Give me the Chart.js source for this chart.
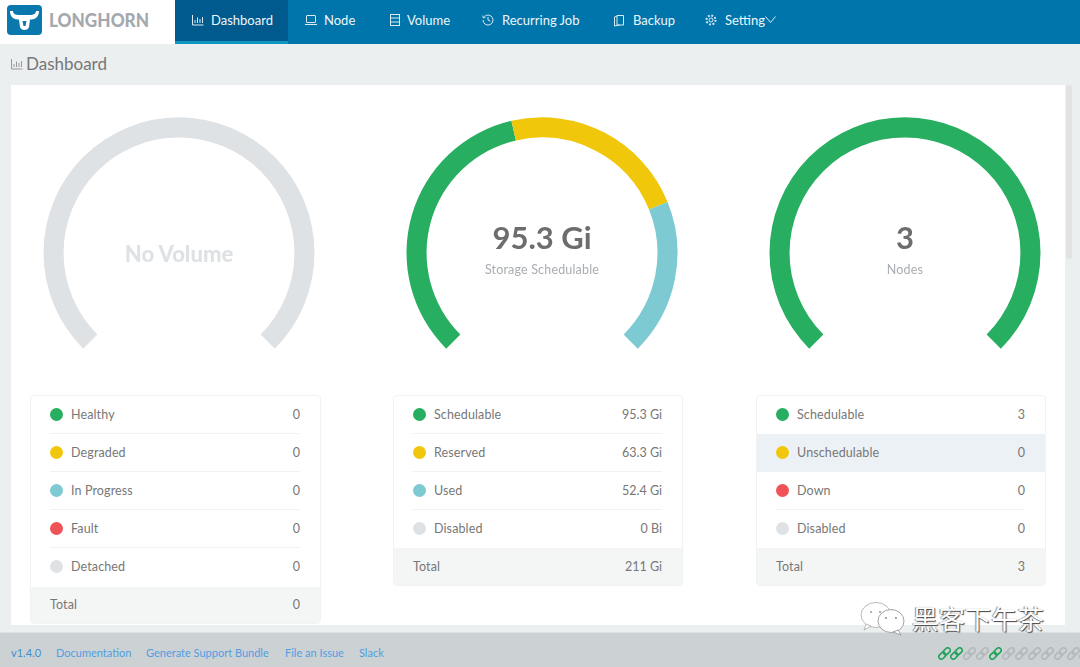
<!DOCTYPE html>
<html><head><meta charset="utf-8"><title>Longhorn Dashboard</title>
<script src="https://cdn.jsdelivr.net/npm/chart.js@4/dist/chart.umd.js"></script>
<style>
*{box-sizing:border-box}
html,body{margin:0;padding:0;width:1080px;height:667px;overflow:hidden;background:#ebeff0;font-family:Lato,"Open Sans",sans-serif;color:#777}
.abs,.abs *{position:absolute}
#top{left:0;top:0;width:1080px;height:44px;background:#0075ab}
#brand{left:0;top:0;width:175px;height:44px;background:#fff}
#logo{left:7px;top:5px;width:35px;height:30px;background:#0a78ad;border-radius:4px}
#logotext{left:49px;top:8px;font-size:18.5px;font-weight:900;line-height:24px;color:#a4a9ae;white-space:nowrap;transform:scaleX(.93);transform-origin:left center}
#active{left:175px;top:0;width:113px;height:44px;background:#005a8e;border-bottom:3px solid #0f97c3}
.nav{top:12px;font-size:13px;line-height:16px;color:#eef6fa;white-space:nowrap}
.ico{overflow:visible;fill:none;stroke:#dcecf4;stroke-width:1}
#title{left:26px;top:53px;font-size:17px;line-height:22px;color:#777;white-space:nowrap}
#panel{left:11px;top:85px;width:1054px;height:540px;background:#fff}
#thumb{left:1066px;top:85px;width:6px;height:174px;background:#e1e2e3;border-radius:3px}
canvas{position:absolute}
.big{font-weight:700;font-size:31px;line-height:36px;color:#6d6d6d;text-align:center;width:280px;white-space:nowrap}
.sub{font-size:12.5px;line-height:16px;color:#a9adb1;text-align:center;width:280px;white-space:nowrap;letter-spacing:.17px}
.nov{font-weight:900;font-size:22px;line-height:28px;color:#dfe2e5;text-align:center;width:280px;white-space:nowrap}
.card{background:#fff;border:1px solid #f0f2f3;border-radius:4px;overflow:hidden}
.row{left:0;width:100%;height:38.1px}
.row .sep{left:19px;right:20px;bottom:0;height:1px;background:#eff1f2}
.dot{left:19px;top:11.5px;width:13px;height:13px;border-radius:50%}
.lab{left:40px;top:10.5px;font-size:12.5px;line-height:16px;color:#777;white-space:nowrap;letter-spacing:.12px}
.val{right:20px;top:10.5px;font-size:12.5px;line-height:16px;color:#777;white-space:nowrap}
.tot{background:#f4f6f6}
#foot{left:0;top:632px;width:1080px;height:35px;background:#ccd1d4;border-top:1px solid #dde1e3}
.fl{font-size:11px;line-height:14px;white-space:nowrap}
#mark{left:912px;top:601px;font-family:"Noto Sans CJK SC";font-size:26.4px;line-height:34px;color:#fff;white-space:nowrap;text-shadow:1px 1px 1px #444,-1px 0 1px #888}
</style></head><body>
<div class="abs" id="root" style="left:0;top:0;width:1080px;height:667px">
<div id="top"></div>
<div id="brand"></div>
<div id="logo"><svg width="35" height="30" viewBox="0 0 35 30" style="left:0;top:0"><path fill-rule="evenodd" d="M3 6C3 13 8 14.500 12 14.500L13 22C14 26 21 26 22 22L23 14.500C27 14.500 32 13 32 6L29 6C29 9 26 10 23 10H12C9 10 6 9 6 6ZM15.500 16L16.500 21H18.500L19.500 16Z" fill="#fff"/></svg></div>
<div id="logotext">LONGHORN</div>
<div id="active"></div>
<div id="navs"></div>
<svg width="12" height="12" style="left:11px;top:58px;overflow:visible;fill:none;stroke:#999;stroke-width:1"><path d="M.5 1v10h11M3 9V6M5.5 9V3.500M8 9V5M10.500 9V3"/></svg>
<div id="title">Dashboard</div>
<div id="panel"></div>
<div id="thumb"></div>
<canvas id="g1" width="280" height="280" style="left:39px;top:93px;width:280px;height:280px"></canvas>
<canvas id="g2" width="280" height="280" style="left:402px;top:93px;width:280px;height:280px"></canvas>
<canvas id="g3" width="280" height="280" style="left:765px;top:93px;width:280px;height:280px"></canvas>
<div class="nov" style="left:39px;top:240px">No Volume</div>
<div class="big" id="c2" style="left:402px;top:219px"></div>
<div class="sub" id="s2" style="left:402px;top:262px"></div>
<div class="big" id="c3" style="left:765px;top:219px"></div>
<div class="sub" id="s3" style="left:765px;top:262px"></div>
<div id="cards"></div>
<div id="foot"></div>
<div id="links"></div>
<svg width="46" height="36" viewBox="0 0 46 36" style="left:860px;top:601px"><ellipse cx="16" cy="14" rx="15" ry="12.500" fill="#fff" stroke="#aaa" stroke-width=".8"/><path d="M6 23l-2 6 7-4z" fill="#fff" stroke="#aaa" stroke-width=".8"/><ellipse cx="31" cy="20" rx="13" ry="11.500" fill="#fff" stroke="#999" stroke-width=".9"/><path d="M38 29l3 5-8-3z" fill="#fff" stroke="#999" stroke-width=".9"/><circle cx="11" cy="11" r="1" fill="#999"/><circle cx="20" cy="11" r="1" fill="#999"/><circle cx="26" cy="17" r="1" fill="#888"/><circle cx="36" cy="17" r="1" fill="#888"/></svg>
<div id="mark">黑客下午茶</div>
</div>
<script>
const navLabels=["Dashboard","Node","Volume","Recurring Job","Backup","Setting"];
const navTextX=[211,324,407,502,633,725];
const footerLabels=["v1.4.0","Documentation","Generate Support Bundle","File an Issue","Slack"];
const footerX=[11,56,146,285,359];
const footerColor=["#3f8fd0","#4f9fe3","#4f9fe3","#4f9fe3","#4f9fe3"];
const volumeLabels=["Healthy","Degraded","In Progress","Fault","Detached"];
const volumeValues=[0,0,0,0,0];
const volumeTrack=[1];
const storageLabels=["Schedulable","Reserved","Used","Disabled"];
const storageValues=[95.3,63.3,52.4,0];
const storageText=["95.3 Gi","63.3 Gi","52.4 Gi","0 Bi"];
const storageTotal="211 Gi";
const nodeLabels=["Schedulable","Unschedulable","Down","Disabled"];
const nodeValues=[3,0,0,0];
const GREEN="#27ae60",YELLOW="#f1c70b",CYAN="#7dcad3",RED="#f05357",GREY="#dfe2e5";
const volumeColors=[GREEN,YELLOW,CYAN,RED,GREY];
const storageColors=[GREEN,YELLOW,CYAN,GREY];
const nodeColors=[GREEN,YELLOW,RED,GREY];
const chainStates=[1,1,0,0,1,0,0,0,0,0,0,0];

function gauge(id,labels,data,colors){
  new Chart(document.getElementById(id),{type:"doughnut",
    data:{labels,datasets:[{data,backgroundColor:colors,borderWidth:0,hoverOffset:0}]},
    options:{responsive:false,animation:false,rotation:-135,circumference:270,radius:135.5,cutout:"85.2%",
      layout:{padding:0},events:[],plugins:{legend:{display:false},tooltip:{enabled:false},title:{display:false}}}});
}
gauge("g1",["Detached"],volumeTrack,[GREY]);
gauge("g2",storageLabels,storageValues,storageColors);
gauge("g3",nodeLabels,nodeValues,nodeColors);
document.getElementById("c2").textContent=storageText[0];
document.getElementById("s2").textContent="Storage Schedulable";
document.getElementById("c3").textContent=String(nodeValues[0]);
document.getElementById("s3").textContent="Nodes";

function el(cls,css,txt){const d=document.createElement("div");d.className=cls;if(css)d.style.cssText=css;if(txt!==undefined)d.textContent=txt;return d;}
const navIcons=[
 '<path d="M.5 1v10h11M3 9V6M5.500 9V3.500M8 9V5M10.500 9V3"/>',
 '<rect x="1.500" y="1.500" width="9" height="7" rx=".5"/><path d="M0 10.500h12"/>',
 '<rect x="1.500" y=".5" width="9" height="11"/><path d="M1.500 4h9M1.500 8h9"/>',
 '<path d="M2.500 2.500A5 5 0 1 1 1 6M6 3v3l2.200 1.200M1 1.500v2.200h2.200"/>',
 '<path d="M4 1.500h6.500v9.500H4zM4 2L1.500 3v9l5-.9"/>',
 '<circle cx="6" cy="6" r="2"/><circle cx="6" cy="6" r="4.500" stroke-width="2" stroke-dasharray="1.800 1.700"/>'];
const navIconX=[192,305,389,482,613,705];
const navs=document.getElementById("navs");
navLabels.forEach((t,i)=>{
  const s=document.createElementNS("http://www.w3.org/2000/svg","svg");
  s.setAttribute("width","12");s.setAttribute("height","12");s.setAttribute("class","ico");
  s.style.left=navIconX[i]+"px";s.style.top="14px";s.innerHTML=navIcons[i];navs.appendChild(s);
  navs.appendChild(el("nav","left:"+navTextX[i]+"px",t));
});
const ch=document.createElementNS("http://www.w3.org/2000/svg","svg");
ch.setAttribute("width","11");ch.setAttribute("height","7");ch.style.cssText="left:765px;top:16px;fill:none;stroke:#dcecf4;stroke-width:1";
ch.innerHTML='<path d="M.5 .5l5 6 5-6"/>';navs.appendChild(ch);

function card(left,top,width,labels,text,colors,total,hl){
  const rowH=38.1,h=(labels.length+1)*rowH+0.8;
  const c=el("card","left:"+left+"px;top:"+top+"px;width:"+width+"px;height:"+h+"px");
  labels.forEach((l,i)=>{
    const r=el("row","top:"+(i*rowH)+"px"+(i===hl?";background:#ecf1f5":""));
    r.appendChild(el("dot","background:"+colors[i]));
    r.appendChild(el("lab","",l));
    r.appendChild(el("val","",text[i]));
    if(i<labels.length-1&&i!==hl&&i+1!==hl)r.appendChild(el("sep"));
    c.appendChild(r);
  });
  const t=el("row tot","top:"+(labels.length*rowH)+"px");
  t.appendChild(el("lab","left:19px","Total"));
  t.appendChild(el("val","",total));
  c.appendChild(t);
  document.getElementById("cards").appendChild(c);
}
card(30,395,291,volumeLabels,volumeValues.map(String),volumeColors,"0",-1);
card(393,395,290,storageLabels,storageText,storageColors,storageTotal,-1);
card(756,395,290,nodeLabels,nodeValues.map(String),nodeColors,"3",1);

const links=document.getElementById("links");
footerLabels.forEach((t,i)=>links.appendChild(el("fl","left:"+footerX[i]+"px;top:646px;color:"+footerColor[i],t)));
chainStates.forEach((on,i)=>{
  const s=document.createElementNS("http://www.w3.org/2000/svg","svg");
  s.setAttribute("width","13");s.setAttribute("height","13");s.setAttribute("viewBox","0 0 13 13");
  s.style.cssText="left:"+(937.5+i*12.9)+"px;top:646.5px;fill:none;stroke-width:1.6;stroke:"+(on?"#21a35a":"#b3b8bb");
  s.innerHTML='<g transform="rotate(-45 6.5 6.5)"><rect x="-.5" y="4" width="7.6" height="5" rx="2.5"/><rect x="5.9" y="4" width="7.6" height="5" rx="2.5"/></g>';
  links.appendChild(s);
});
</script>
</body></html>
